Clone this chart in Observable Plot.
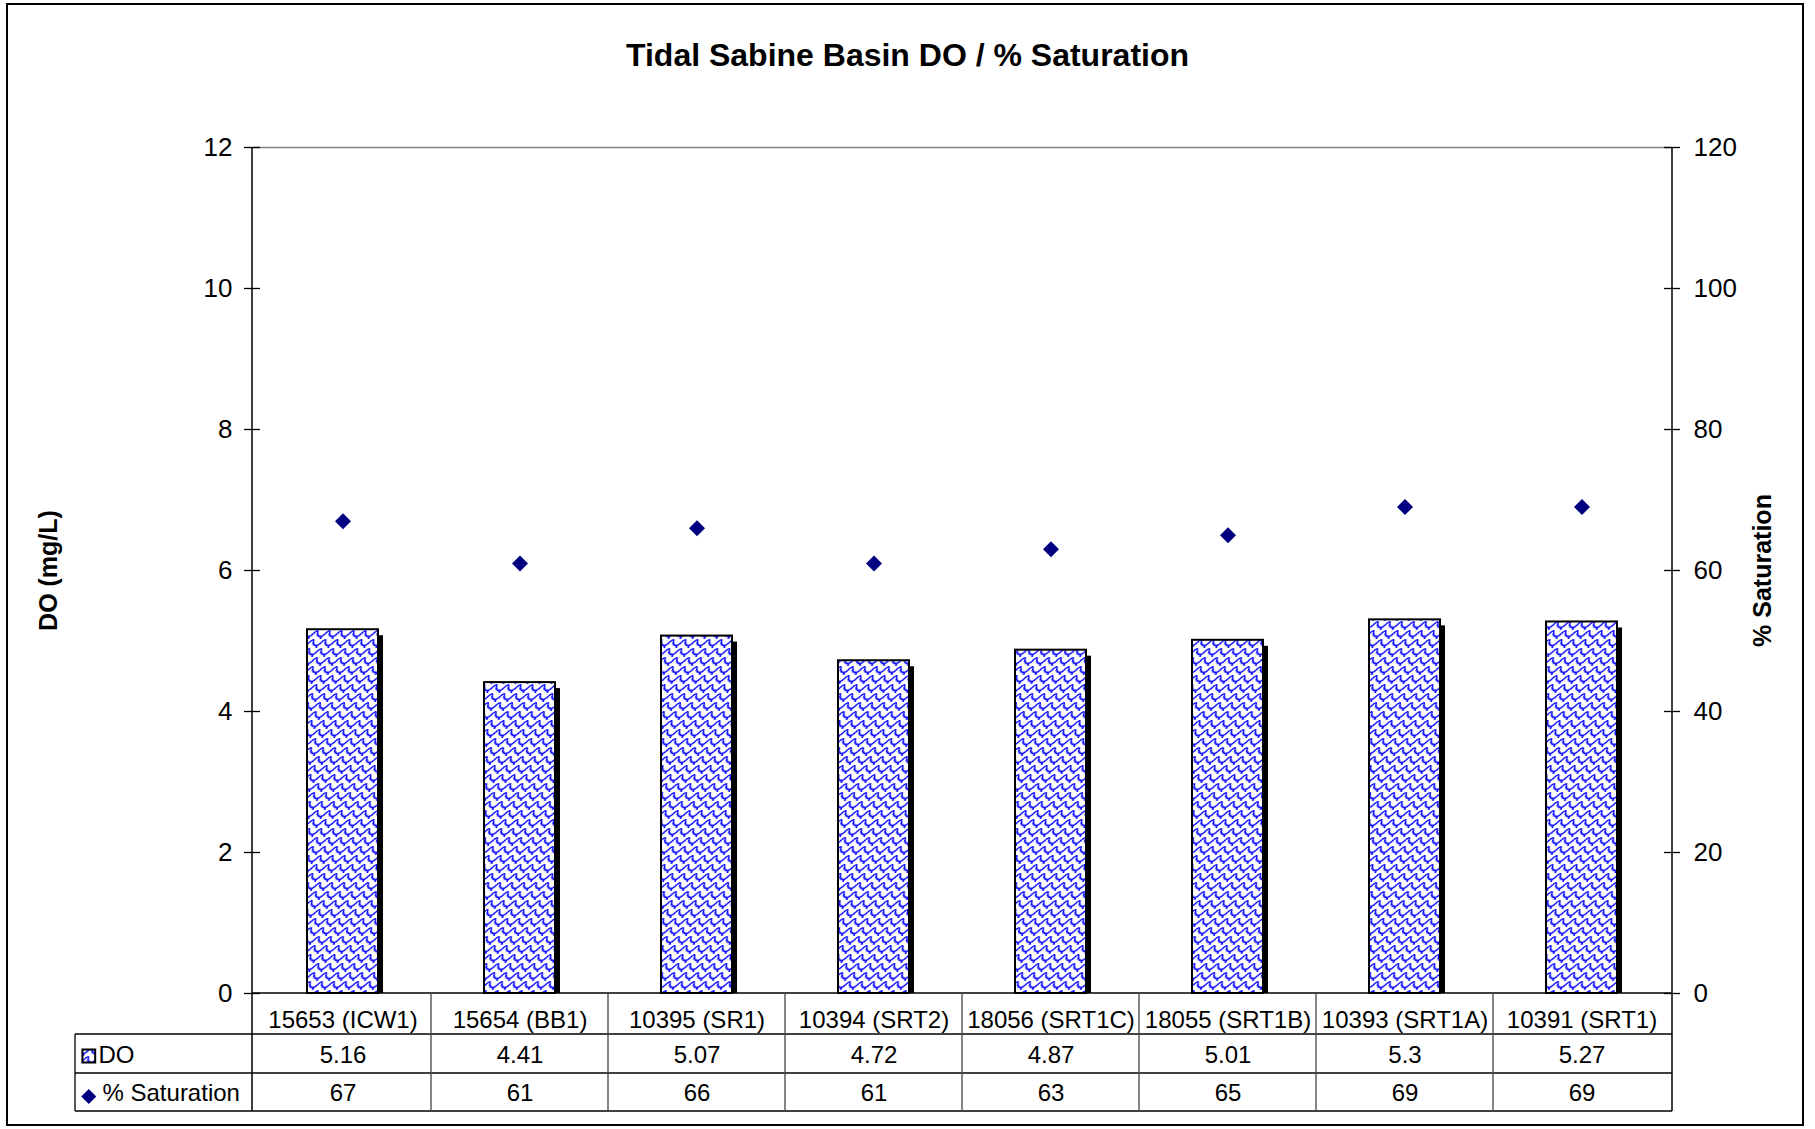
<!DOCTYPE html>
<html><head><meta charset="utf-8">
<script src="https://cdn.jsdelivr.net/npm/d3@7"></script>
<script src="https://cdn.jsdelivr.net/npm/@observablehq/plot@0.6"></script>
<style>
html,body{margin:0;padding:0;background:#fff;}
#chart{position:absolute;left:0;top:0;}
</style></head><body><div id="chart"></div>
<script>
const sites = ["15653 (ICW1)", "15654 (BB1)", "10395 (SR1)", "10394 (SRT2)", "18056 (SRT1C)", "18055 (SRT1B)", "10393 (SRT1A)", "10391 (SRT1)"];
const doValues = [5.16, 4.41, 5.07, 4.72, 4.87, 5.01, 5.3, 5.27];
const satValues = [67, 61, 66, 61, 63, 65, 69, 69];
const doTicks = [0, 2, 4, 6, 8, 10, 12];
const satTickLabels = ["0", "20", "40", "60", "80", "100", "120"];
const title = "Tidal Sabine Basin DO / % Saturation";
const doLabel = "DO (mg/L)";
const satLabel = "% Saturation";
const rowLabels = ["DO", "% Saturation"];

const data = sites.map((site, i) => ({site, do: doValues[i], sat: satValues[i]}));
const satFactor = 10; // right axis (0–120) is the left axis (0–12) × 10

const W = 1815, H = 1129, mL = 252, mR = 143, mT = 147, mB = 136;
const frameW = W - mL - mR;
const font = "'Liberation Sans', Arial, Helvetica, sans-serif";

const chart = Plot.plot({
  width: W, height: H,
  marginLeft: mL, marginRight: mR, marginTop: mT, marginBottom: mB,
  style: {fontFamily: font, fontSize: "24px", color: "#000", background: "#fff", overflow: "visible"},
  x: {domain: sites, paddingInner: 0.6, paddingOuter: 0.3, axis: null},
  y: {domain: [0, 12], axis: null},
  marks: [
    Plot.ruleY([12], {stroke: "#808080", strokeWidth: 1.5}),
    // bar shadows
    Plot.barY(data, {x: "site", y: "do", fill: "#000", dx: 5, dy: 6, insetBottom: 6}),
    // patterned bars
    Plot.barY(data, {x: "site", y: "do", fill: "url(#wave)", stroke: "#000", strokeWidth: 2}),
    // % saturation diamonds on the DO scale (÷10)
    Plot.dot(data, {x: "site", y: d => d.sat / satFactor, symbol: "diamond2", r: 7.2, fill: "#000080", stroke: "none"}),
    // axes
    Plot.axisY({anchor: "left", ticks: doTicks, tickSize: 0, tickPadding: 20, label: null, fontSize: 26}),
    Plot.axisY({anchor: "right", ticks: doTicks, tickSize: 0, tickPadding: 21, label: null, fontSize: 26,
      tickFormat: d => satTickLabels[doTicks.indexOf(d)]}),
    Plot.tickY(doTicks, {y: d => d, insetRight: frameW - 16, dx: -8, stroke: "#000", strokeWidth: 1.3}),
    Plot.tickY(doTicks, {y: d => d, insetLeft: frameW - 16, dx: 8, stroke: "#000", strokeWidth: 1.3}),
    // axis titles
    Plot.text([doLabel], {text: d => d, frameAnchor: "left", textAnchor: "middle", lineAnchor: "middle", rotate: -90, dx: -204, fontSize: 25, fontWeight: "bold"}),
    Plot.text([satLabel], {text: d => d, frameAnchor: "right", textAnchor: "middle", lineAnchor: "middle", rotate: -90, dx: 90, fontSize: 25, fontWeight: "bold"}),
    // title
    Plot.text([title], {text: d => d, frameAnchor: "top", textAnchor: "middle", lineAnchor: "middle", dx: -55, dy: -92, fontSize: 32, fontWeight: "bold"}),
    // data table
    Plot.text(data, {x: "site", text: "site", frameAnchor: "bottom", lineAnchor: "middle", dy: 27, fontSize: 24}),
    Plot.text(data, {x: "site", text: d => String(d.do), frameAnchor: "bottom", lineAnchor: "middle", dy: 62, fontSize: 24}),
    Plot.text(data, {x: "site", text: d => String(d.sat), frameAnchor: "bottom", lineAnchor: "middle", dy: 100, fontSize: 24}),
    Plot.text([rowLabels[0]], {text: d => d, frameAnchor: "bottom-left", textAnchor: "start", lineAnchor: "middle", dx: -154, dy: 62, fontSize: 24}),
    Plot.text([rowLabels[1]], {text: d => d, frameAnchor: "bottom-left", textAnchor: "start", lineAnchor: "middle", dx: -150, dy: 100, fontSize: 24}),
    Plot.dot([rowLabels[0]], {frameAnchor: "bottom-left", symbol: "square", r: 7.2, fill: "url(#wave)", stroke: "#000", strokeWidth: 2, dx: -163.7, dy: 62.5}),
    Plot.dot([rowLabels[1]], {frameAnchor: "bottom-left", symbol: "diamond2", r: 6.8, fill: "#000080", stroke: "none", dx: -163.7, dy: 103})
  ]
});

document.getElementById("chart").appendChild(chart);

const svg = d3.select(chart);
svg.insert("defs", ":first-child").html(
  `<pattern id="wave" patternUnits="userSpaceOnUse" width="12" height="9" patternTransform="skewX(-25)">
     <rect width="12" height="9" fill="#fff"/>
     <path d="M0,0.5 C0.5,5 3,7 6,6.5 C9,6 8,2 12,0.5 M6,6.5 C6,8 6.5,9 6.5,9.5" fill="none" stroke="#0000ff" stroke-width="1.6"/>
   </pattern>`);

// table grid and axis lines
const xs = chart.scale("x");
const step = xs.step, bw = xs.bandwidth;
const edges = sites.map(s => xs.apply(s) + bw / 2 - step / 2);
edges.push(edges[edges.length - 1] + step);
const y0 = H - mB;
const rowsY = [y0 + 41, y0 + 80, y0 + 118];
const tableLeft = 75;
const g = svg.append("g").attr("fill", "none").attr("stroke", "#000");
g.append("line").attr("x1", mL).attr("x2", W - mR).attr("y1", y0).attr("y2", y0).attr("stroke-width", 1.5);
rowsY.forEach(y => g.append("line").attr("x1", tableLeft).attr("x2", W - mR).attr("y1", y).attr("y2", y).attr("stroke-width", 1.3));
edges.slice(1, -1).forEach(x => g.append("line").attr("x1", x).attr("x2", x).attr("y1", y0).attr("y2", rowsY[2]).attr("stroke", "#444").attr("stroke-width", 1.3));
g.append("line").attr("x1", mL).attr("x2", mL).attr("y1", mT).attr("y2", rowsY[2]).attr("stroke-width", 1.5);
g.append("line").attr("x1", W - mR).attr("x2", W - mR).attr("y1", mT).attr("y2", rowsY[2]).attr("stroke-width", 1.5);
g.append("line").attr("x1", tableLeft).attr("x2", tableLeft).attr("y1", rowsY[0]).attr("y2", rowsY[2]).attr("stroke-width", 1.3);
g.append("rect").attr("x", 7).attr("y", 4).attr("width", 1796).attr("height", 1121).attr("stroke-width", 2);
</script>
</body></html>
